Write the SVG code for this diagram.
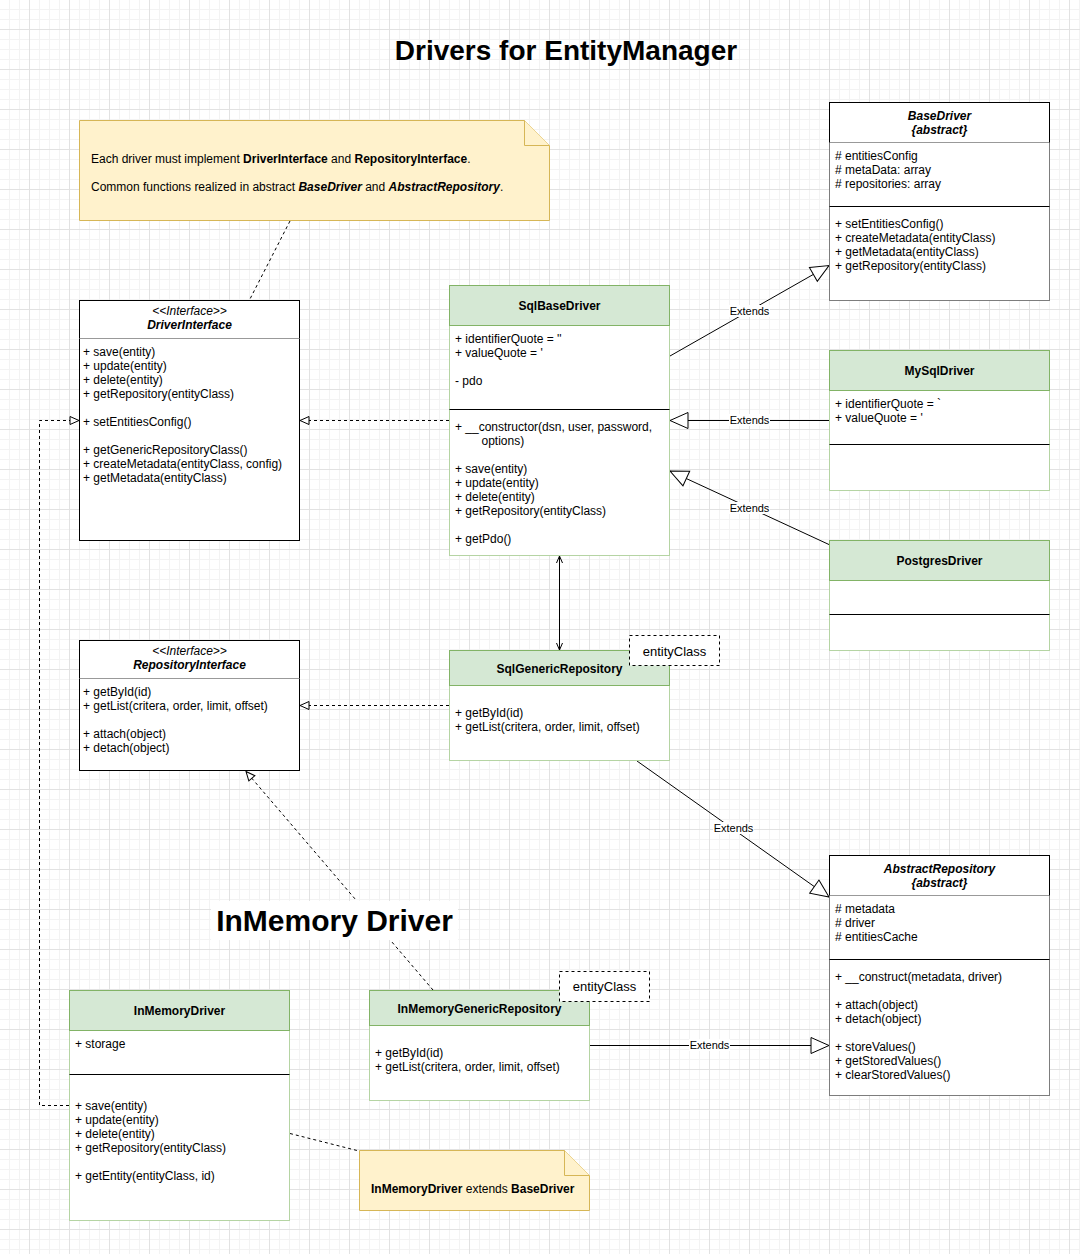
<svg xmlns="http://www.w3.org/2000/svg" width="1080" height="1254" viewBox="0 0 1080 1254">
<defs>
<pattern id="gmin" width="10" height="10" patternUnits="userSpaceOnUse"><path d="M9.5 0V10M0 9.5H10" stroke="#f3f3f3" fill="none"/></pattern>
<pattern id="gmaj" width="40" height="40" patternUnits="userSpaceOnUse"><path d="M29.5 0V40M0 29.5H40" stroke="#e2e2e2" fill="none"/></pattern>
<marker id="ext" markerUnits="userSpaceOnUse" markerWidth="20" markerHeight="18" refX="18" refY="8" orient="auto" overflow="visible"><path d="M0,0 L18,8 L0,16 Z" fill="#fff" stroke="#000"/></marker>
<marker id="real" markerUnits="userSpaceOnUse" markerWidth="10" markerHeight="10" refX="9" refY="4" orient="auto" overflow="visible"><path d="M0,0 L9,4 L0,8 Z" fill="#fff" stroke="#000"/></marker>
<marker id="open" markerUnits="userSpaceOnUse" markerWidth="8" markerHeight="8" refX="7" refY="3" orient="auto" overflow="visible"><path d="M0,0 L7,3 L0,6" fill="none" stroke="#000"/></marker>
<marker id="openS" markerUnits="userSpaceOnUse" markerWidth="8" markerHeight="8" refX="0" refY="3" orient="auto" overflow="visible"><path d="M7,0 L0,3 L7,6" fill="none" stroke="#000"/></marker>
<style>
text{font-family:'Liberation Sans',Arial,Helvetica,sans-serif;fill:#000}
.m{font-size:12px}
.t{font-size:12px;font-weight:bold;text-anchor:middle}
.ti{font-size:12px;font-weight:bold;font-style:italic;text-anchor:middle}
.st{font-size:12px;font-style:italic;text-anchor:middle}
.lbl{font-size:11px;text-anchor:middle}
.ec{font-size:13px;text-anchor:middle}
.body{fill:#fff;stroke:#000}
.bodyg{fill:#fff;stroke:#b5d4a3}
.bodyk{fill:#fff;stroke:#7d7d7d}
.hg{fill:#d5e8d4;stroke:#82b366}
.hk{fill:#fff;stroke:#000}
.sep{stroke:#000;fill:none}
.sepg{stroke:#999;fill:none}
.note{fill:#fff2cc;stroke:#d6b656}
.ln{fill:none;stroke:#000}
.dash{fill:none;stroke:#000;stroke-dasharray:3 3}
.ecbox{fill:#fff;stroke:#000;stroke-dasharray:3 3}
.lb{fill:#fff}
</style>
</defs>
<rect width="1080" height="1254" fill="#fff"/>
<rect width="1080" height="1254" fill="url(#gmin)"/>
<rect width="1080" height="1254" fill="url(#gmaj)"/>

<text x="566" y="60" style="font-size:28px;font-weight:bold;text-anchor:middle">Drivers for EntityManager</text>

<g id="connectors">
<line class="dash" x1="290" y1="221" x2="250" y2="299"/>
<line class="ln" x1="670" y1="356" x2="829" y2="265.5" marker-end="url(#ext)"/>
<rect class="lb" x="729" y="305" width="41" height="12"/>
<text class="lbl" x="749.5" y="315">Extends</text>
<line class="ln" x1="830" y1="420.5" x2="670" y2="420.5" marker-end="url(#ext)"/>
<rect class="lb" x="729" y="414" width="41" height="12"/>
<text class="lbl" x="749.5" y="424">Extends</text>
<line class="ln" x1="830" y1="545" x2="670" y2="471" marker-end="url(#ext)"/>
<rect class="lb" x="729" y="502" width="41" height="12"/>
<text class="lbl" x="749.5" y="512">Extends</text>
<line class="dash" x1="449" y1="420.5" x2="300" y2="420.5" marker-end="url(#real)"/>
<line class="ln" x1="559.5" y1="556" x2="559.5" y2="650" marker-start="url(#openS)" marker-end="url(#open)"/>
<line class="dash" x1="449" y1="705.5" x2="300" y2="705.5" marker-end="url(#real)"/>
<line class="ln" x1="637" y1="761" x2="829" y2="897" marker-end="url(#ext)"/>
<rect class="lb" x="713" y="822" width="41" height="12"/>
<text class="lbl" x="733.5" y="832">Extends</text>
<line class="ln" x1="590" y1="1045.5" x2="829" y2="1045.5" marker-end="url(#ext)"/>
<rect class="lb" x="689" y="1039" width="41" height="12"/>
<text class="lbl" x="709.5" y="1049">Extends</text>
<polyline class="dash" points="69,1105.5 39.5,1105.5 39.5,420.5 79,420.5" marker-end="url(#real)"/>
<line class="dash" x1="433" y1="990" x2="246" y2="771.5" marker-end="url(#real)"/>
<line class="dash" x1="290" y1="1133.5" x2="359" y2="1151"/>
</g>

<g id="inmemory-label">
<rect class="lb" x="211" y="901" width="247" height="39"/>
<text x="334.5" y="931" style="font-size:30px;font-weight:bold;text-anchor:middle">InMemory Driver</text>
</g>

<g id="note1">
<path class="note" d="M79.5,120.5 H524.5 L549.5,145.5 V220.5 H79.5 Z"/>
<path class="note" d="M524.5,120.5 V145.5 H549.5"/>
<text class="m" x="91" y="163">Each driver must implement <tspan font-weight="bold">DriverInterface</tspan> and <tspan font-weight="bold">RepositoryInterface</tspan>.</text>
<text class="m" x="91" y="191">Common functions realized in abstract <tspan font-weight="bold" font-style="italic">BaseDriver</tspan> and <tspan font-weight="bold" font-style="italic">AbstractRepository</tspan>.</text>
</g>

<g id="DriverInterface">
<rect class="body" x="79.5" y="300.5" width="220" height="240"/>
<line class="sepg" x1="79.5" y1="338.5" x2="299.5" y2="338.5"/>
<text class="st" x="189.5" y="315">&lt;&lt;Interface&gt;&gt;</text>
<text class="ti" x="189.5" y="329">DriverInterface</text>
<text class="m" x="83" y="356">+ save(entity)</text>
<text class="m" x="83" y="370">+ update(entity)</text>
<text class="m" x="83" y="384">+ delete(entity)</text>
<text class="m" x="83" y="398">+ getRepository(entityClass)</text>
<text class="m" x="83" y="426">+ setEntitiesConfig()</text>
<text class="m" x="83" y="454">+ getGenericRepositoryClass()</text>
<text class="m" x="83" y="468">+ createMetadata(entityClass, config)</text>
<text class="m" x="83" y="482">+ getMetadata(entityClass)</text>
</g>

<g id="SqlBaseDriver">
<rect class="bodyg" x="449.5" y="285.5" width="220" height="270"/>
<rect class="hg" x="449.5" y="285.5" width="220" height="40"/>
<text class="t" x="559.5" y="310">SqlBaseDriver</text>
<text class="m" x="455" y="343">+ identifierQuote = ''</text>
<text class="m" x="455" y="357">+ valueQuote = '</text>
<text class="m" x="455" y="385">- pdo</text>
<line class="sep" x1="449.5" y1="409.5" x2="669.5" y2="409.5"/>
<text class="m" x="455" y="431">+ __constructor(dsn, user, password,</text>
<text class="m" x="481.5" y="445">options)</text>
<text class="m" x="455" y="473">+ save(entity)</text>
<text class="m" x="455" y="487">+ update(entity)</text>
<text class="m" x="455" y="501">+ delete(entity)</text>
<text class="m" x="455" y="515">+ getRepository(entityClass)</text>
<text class="m" x="455" y="543">+ getPdo()</text>
</g>

<g id="BaseDriver">
<rect class="bodyk" x="829.5" y="102.5" width="220" height="198"/>
<rect class="hk" x="829.5" y="102.5" width="220" height="40"/>
<line class="sepg" x1="829.5" y1="142.5" x2="1049.5" y2="142.5"/>
<text class="ti" x="939.5" y="120">BaseDriver</text>
<text class="ti" x="939.5" y="134">{abstract}</text>
<text class="m" x="835" y="160"># entitiesConfig</text>
<text class="m" x="835" y="174"># metaData: array</text>
<text class="m" x="835" y="188"># repositories: array</text>
<line class="sep" x1="829.5" y1="206.5" x2="1049.5" y2="206.5"/>
<text class="m" x="835" y="228">+ setEntitiesConfig()</text>
<text class="m" x="835" y="242">+ createMetadata(entityClass)</text>
<text class="m" x="835" y="256">+ getMetadata(entityClass)</text>
<text class="m" x="835" y="270">+ getRepository(entityClass)</text>
</g>

<g id="MySqlDriver">
<rect class="bodyg" x="829.5" y="350.5" width="220" height="140"/>
<rect class="hg" x="829.5" y="350.5" width="220" height="40"/>
<text class="t" x="939.5" y="375">MySqlDriver</text>
<text class="m" x="835" y="408">+ identifierQuote = `</text>
<text class="m" x="835" y="422">+ valueQuote = '</text>
<line class="sep" x1="829.5" y1="444.5" x2="1049.5" y2="444.5"/>
</g>

<g id="PostgresDriver">
<rect class="bodyg" x="829.5" y="540.5" width="220" height="110"/>
<rect class="hg" x="829.5" y="540.5" width="220" height="40"/>
<text class="t" x="939.5" y="565">PostgresDriver</text>
<line class="sep" x1="829.5" y1="614.5" x2="1049.5" y2="614.5"/>
</g>

<g id="RepositoryInterface">
<rect class="body" x="79.5" y="640.5" width="220" height="130"/>
<line class="sepg" x1="79.5" y1="678.5" x2="299.5" y2="678.5"/>
<text class="st" x="189.5" y="655">&lt;&lt;Interface&gt;&gt;</text>
<text class="ti" x="189.5" y="669">RepositoryInterface</text>
<text class="m" x="83" y="696">+ getById(id)</text>
<text class="m" x="83" y="710">+ getList(critera, order, limit, offset)</text>
<text class="m" x="83" y="738">+ attach(object)</text>
<text class="m" x="83" y="752">+ detach(object)</text>
</g>

<g id="SqlGenericRepository">
<rect class="bodyg" x="449.5" y="650.5" width="220" height="110"/>
<rect class="hg" x="449.5" y="650.5" width="220" height="35"/>
<text class="t" x="559.5" y="673">SqlGenericRepository</text>
<text class="m" x="455" y="717">+ getById(id)</text>
<text class="m" x="455" y="731">+ getList(critera, order, limit, offset)</text>
</g>

<g id="entityClass1">
<rect class="ecbox" x="629.5" y="635.5" width="90" height="30"/>
<text class="ec" x="674.5" y="655.5">entityClass</text>
</g>

<g id="AbstractRepository">
<rect class="bodyk" x="829.5" y="855.5" width="220" height="240"/>
<rect class="hk" x="829.5" y="855.5" width="220" height="40"/>
<line class="sepg" x1="829.5" y1="895.5" x2="1049.5" y2="895.5"/>
<text class="ti" x="939.5" y="873">AbstractRepository</text>
<text class="ti" x="939.5" y="887">{abstract}</text>
<text class="m" x="835" y="913"># metadata</text>
<text class="m" x="835" y="927"># driver</text>
<text class="m" x="835" y="941"># entitiesCache</text>
<line class="sep" x1="829.5" y1="959.5" x2="1049.5" y2="959.5"/>
<text class="m" x="835" y="981">+ __construct(metadata, driver)</text>
<text class="m" x="835" y="1009">+ attach(object)</text>
<text class="m" x="835" y="1023">+ detach(object)</text>
<text class="m" x="835" y="1051">+ storeValues()</text>
<text class="m" x="835" y="1065">+ getStoredValues()</text>
<text class="m" x="835" y="1079">+ clearStoredValues()</text>
</g>

<g id="InMemoryDriver">
<rect class="bodyg" x="69.5" y="990.5" width="220" height="230"/>
<rect class="hg" x="69.5" y="990.5" width="220" height="40"/>
<text class="t" x="179.5" y="1015">InMemoryDriver</text>
<text class="m" x="75" y="1048">+ storage</text>
<line class="sep" x1="69.5" y1="1074.5" x2="289.5" y2="1074.5"/>
<text class="m" x="75" y="1110">+ save(entity)</text>
<text class="m" x="75" y="1124">+ update(entity)</text>
<text class="m" x="75" y="1138">+ delete(entity)</text>
<text class="m" x="75" y="1152">+ getRepository(entityClass)</text>
<text class="m" x="75" y="1180">+ getEntity(entityClass, id)</text>
</g>

<g id="InMemoryGenericRepository">
<rect class="bodyg" x="369.5" y="990.5" width="220" height="110"/>
<rect class="hg" x="369.5" y="990.5" width="220" height="35"/>
<text class="t" x="479.5" y="1013">InMemoryGenericRepository</text>
<text class="m" x="375" y="1057">+ getById(id)</text>
<text class="m" x="375" y="1071">+ getList(critera, order, limit, offset)</text>
</g>

<g id="entityClass2">
<rect class="ecbox" x="559.5" y="971.5" width="90" height="30"/>
<text class="ec" x="604.5" y="991">entityClass</text>
</g>

<g id="note2">
<path class="note" d="M359.5,1150.5 H564.5 L589.5,1175.5 V1210.5 H359.5 Z"/>
<path class="note" d="M564.5,1150.5 V1175.5 H589.5"/>
<text class="m" x="371" y="1193"><tspan font-weight="bold">InMemoryDriver</tspan> extends <tspan font-weight="bold">BaseDriver</tspan></text>
</g>
</svg>
